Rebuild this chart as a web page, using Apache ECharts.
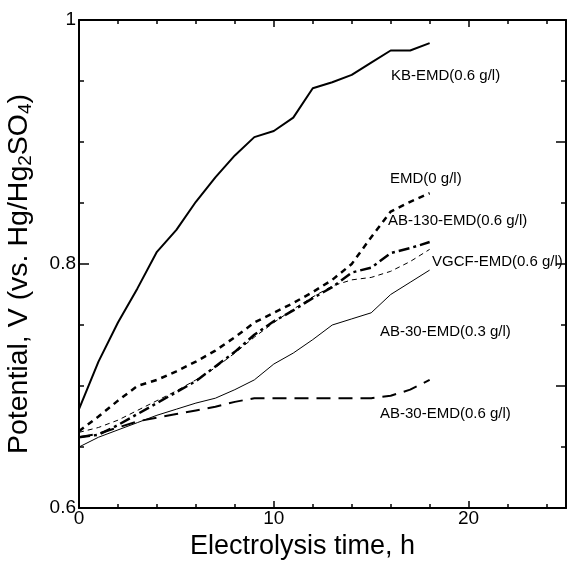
<!DOCTYPE html>
<html><head><meta charset="utf-8">
<script src="https://cdn.jsdelivr.net/npm/echarts@6/dist/echarts.min.js"></script>
<style>html,body{margin:0;padding:0;background:#fff}#c{width:568px;height:561px}</style>
</head><body><div id="c"></div>
<script>
const hours = [0,1,2,3,4,5,6,7,8,9,10,11,12,13,14,15,16,17,18];
const kbEmd06 = [0.681,0.720,0.752,0.780,0.810,0.828,0.851,0.871,0.889,0.904,0.909,0.920,0.944,0.949,0.955,0.965,0.975,0.975,0.981];
const emd0 = [0.663,0.675,0.688,0.700,0.705,0.712,0.720,0.729,0.740,0.752,0.760,0.768,0.777,0.787,0.800,0.822,0.843,0.851,0.858];
const ab130Emd06 = [0.658,0.660,0.668,0.677,0.686,0.695,0.704,0.716,0.728,0.742,0.753,0.762,0.772,0.781,0.793,0.797,0.809,0.813,0.818];
const vgcfEmd06 = [0.662,0.666,0.672,0.680,0.688,0.696,0.705,0.715,0.727,0.740,0.752,0.763,0.773,0.782,0.787,0.789,0.794,0.802,0.812];
const ab30Emd03 = [0.650,0.658,0.664,0.670,0.676,0.681,0.686,0.690,0.697,0.705,0.718,0.727,0.738,0.750,0.755,0.760,0.775,0.785,0.795];
const ab30Emd06 = [0.658,0.661,0.666,0.671,0.674,0.677,0.680,0.683,0.687,0.690,0.690,0.690,0.690,0.690,0.690,0.690,0.692,0.697,0.705];
const seriesNames = ['KB-EMD(0.6 g/l)','EMD(0 g/l)','AB-130-EMD(0.6 g/l)','VGCF-EMD(0.6 g/l)','AB-30-EMD(0.3 g/l)','AB-30-EMD(0.6 g/l)'];
const xTitle = 'Electrolysis time, h';

const allValues = [kbEmd06, emd0, ab130Emd06, vgcfEmd06, ab30Emd03, ab30Emd06];
const styles = [
  {width:2, type:'solid'},
  {width:2.5, type:[6,5]},
  {width:2.5, type:[11,4,3,4]},
  {width:1, type:[5,4]},
  {width:1, type:'solid'},
  {width:2, type:[14,8]}
];
const labelPos = [[391,77],[390,180],[388,222],[432,263],[380,333],[380,415]];

const FONT = '"Liberation Sans", Arial, sans-serif';
const chart = echarts.init(document.getElementById('c'), null, {renderer:'canvas'});
const axisLine = {show:true, onZero:false, lineStyle:{color:'#000', width:2}};
const option = {
  backgroundColor:'#fff',
  animation:false,
  grid:{left:79, right:2, top:20, bottom:53, containLabel:false, outerBoundsMode:'none'},
  xAxis:[
    {type:'value', min:0, max:25, interval:10, position:'bottom',
     axisLine, axisTick:{show:true, inside:true, length:7, lineStyle:{color:'#000', width:1.5}},
     minorTick:{show:true, splitNumber:5, length:4, lineStyle:{color:'#000', width:1.5}},
     splitLine:{show:false},
     axisLabel:{show:true, color:'#000', fontSize:19, fontFamily:FONT, margin:1, showMaxLabel:false},
     name:xTitle, nameLocation:'middle', nameGap:25,
     nameTextStyle:{color:'#000', fontSize:27, fontFamily:FONT, padding:[0,40,0,0]}},
    {type:'value', min:0, max:25, interval:10, position:'top',
     axisLine, axisTick:{show:true, inside:true, length:7, lineStyle:{color:'#000', width:1.5}},
     minorTick:{show:true, splitNumber:5, length:4, lineStyle:{color:'#000', width:1.5}},
     splitLine:{show:false}, axisLabel:{show:false}}
  ],
  yAxis:[
    {type:'value', min:0.6, max:1.0, interval:0.2, position:'left',
     axisLine, axisTick:{show:true, inside:true, length:10, lineStyle:{color:'#000', width:1.5}},
     minorTick:{show:true, splitNumber:4, length:5, lineStyle:{color:'#000', width:1.5}},
     splitLine:{show:false},
     axisLabel:{show:true, color:'#000', fontSize:19, fontFamily:FONT, margin:3,
       formatter:v => (Math.abs(v-1)<1e-9 ? '1' : v.toFixed(1))},
     name:'{a|Potential, V (vs. Hg/Hg}{s|2}{a|SO}{s|4}{a|)}', nameLocation:'middle', nameGap:44, nameRotate:90,
     nameTextStyle:{color:'#000', fontFamily:FONT, padding:[0,20,0,0], rich:{
       a:{fontSize:28.5, lineHeight:32, fontFamily:FONT, color:'#000'},
       s:{fontSize:19, lineHeight:18, verticalAlign:'bottom', fontFamily:FONT, color:'#000'}
     }}},
    {type:'value', min:0.6, max:1.0, interval:0.1, position:'right',
     axisLine, axisTick:{show:true, inside:true, length:10, lineStyle:{color:'#000', width:1.5}},
     minorTick:{show:true, splitNumber:2, length:5, lineStyle:{color:'#000', width:1.5}},
     splitLine:{show:false}, axisLabel:{show:false}}
  ],
  series: allValues.map((vals,i)=>({
    name:seriesNames[i], type:'line', xAxisIndex:0, yAxisIndex:0,
    data: hours.map((h,j)=>[h, vals[j]]),
    showSymbol:false, symbol:'none', smooth:false,
    lineStyle:{color:'#000', width:styles[i].width, type:styles[i].type},
    z:3
  })),
  graphic: seriesNames.map((n,i)=>({
    type:'text', left:labelPos[i][0], top:labelPos[i][1]-9,
    style:{text:n, fill:'#000', fontSize:15, fontFamily:FONT}
  }))
};
chart.setOption(option);
</script></body></html>
